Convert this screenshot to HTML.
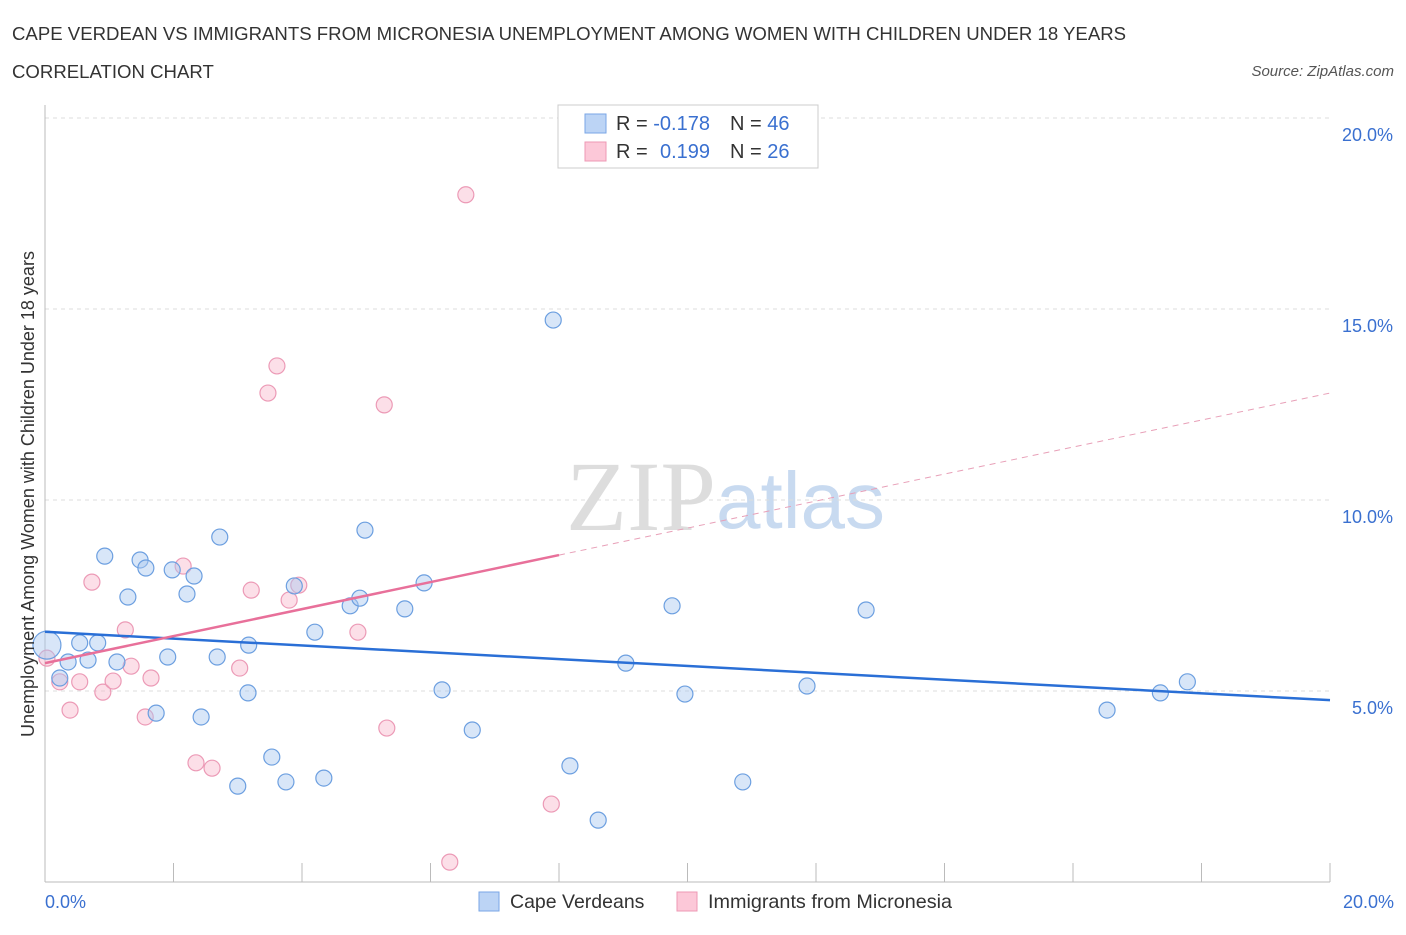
<!DOCTYPE html>
<html><head><meta charset="utf-8"><style>
body{margin:0;background:#fff;font-family:"Liberation Sans",sans-serif;}
svg text{font-family:"Liberation Sans",sans-serif;}
</style></head><body>
<svg id="c" width="1406" height="930" xmlns="http://www.w3.org/2000/svg">
<text x="12" y="40" font-size="18.6" fill="#333">CAPE VERDEAN VS IMMIGRANTS FROM MICRONESIA UNEMPLOYMENT AMONG WOMEN WITH CHILDREN UNDER 18 YEARS</text>
<text x="12" y="78" font-size="18.6" fill="#333">CORRELATION CHART</text>
<text x="1394" y="76" font-size="15" fill="#555" font-style="italic" text-anchor="end">Source: ZipAtlas.com</text>
<text x="716" y="530" font-size="100" fill="#ddd" text-anchor="end" style="font-family:'Liberation Serif',serif">ZIP</text>
<text x="716" y="528" font-size="80" fill="#c8daf0">atlas</text>
<g id="grid"></g><g id="axes"></g><g id="marks"></g>
<text transform="translate(34,494) rotate(-90)" font-size="18" fill="#333" text-anchor="middle">Unemployment Among Women with Children Under 18 years</text>
<text x="45" y="908" font-size="18" fill="#3a70d0">0.0%</text>
<text x="1394" y="908" font-size="18" fill="#3a70d0" text-anchor="end">20.0%</text>
<g>
<rect x="558" y="105" width="260" height="63" fill="#fff" stroke="#ccc"/>
<rect x="585" y="114" width="21" height="19" fill="#bcd4f5" stroke="#7aa6e6"/>
<rect x="585" y="142" width="21" height="19" fill="#fcc8d8" stroke="#ee98b4"/>
<text x="616" y="130" font-size="20" fill="#333">R = <tspan fill="#3a70d0">-0.178</tspan><tspan x="730">N = </tspan><tspan fill="#3a70d0">46</tspan></text>
<text x="616" y="158" font-size="20" fill="#333">R = <tspan x="660" fill="#3a70d0">0.199</tspan><tspan x="730">N = </tspan><tspan fill="#3a70d0">26</tspan></text>
</g>
<g>
<rect x="479" y="892" width="20" height="19" fill="#bcd4f5" stroke="#7aa6e6"/>
<text x="510" y="908" font-size="19.5" fill="#333">Cape Verdeans</text>
<rect x="677" y="892" width="20" height="19" fill="#fcc8d8" stroke="#ee98b4"/>
<text x="708" y="908" font-size="19.8" fill="#333">Immigrants from Micronesia</text>
</g>
</svg>
<script>
const yTicks=[5,10,15,20];
const blueX=[0.03,0.23,0.36,0.54,0.67,0.82,0.93,1.12,1.29,1.48,1.57,1.73,1.91,1.98,2.21,2.32,2.43,2.68,2.72,3.0,3.16,3.17,3.53,3.75,3.88,4.2,4.34,4.75,4.9,4.98,5.6,5.9,6.18,6.65,7.91,8.17,8.61,9.04,9.76,9.96,10.86,11.86,12.78,16.53,17.36,17.78];
const blueY=[6.2,5.34,5.76,6.26,5.81,6.26,8.53,5.76,7.46,8.43,8.22,4.42,5.89,8.17,7.54,8.01,4.32,5.89,9.03,2.51,4.95,6.2,3.27,2.62,7.75,6.54,2.72,7.23,7.43,9.21,7.15,7.83,5.03,3.98,14.71,3.04,1.62,5.73,7.23,4.92,2.62,5.13,7.12,4.5,4.95,5.24];
const pinkX=[0.03,0.23,0.39,0.54,0.73,0.9,1.06,1.25,1.34,1.56,1.65,2.15,2.35,2.6,3.03,3.21,3.47,3.61,3.8,3.95,4.87,5.28,5.32,6.3,6.55,7.88];
const pinkY=[5.86,5.24,4.5,5.24,7.85,4.97,5.26,6.6,5.65,4.32,5.34,8.27,3.12,2.98,5.6,7.64,12.8,13.51,7.38,7.77,6.54,12.49,4.03,0.52,17.99,2.04];
const blueLine=[6.55,4.76];
const pinkLine=[5.73,12.8];
const pinkSolidEnd=8;
const X=v=>45+v/20*1285, Y=v=>882-v/20*764;
const NS="http://www.w3.org/2000/svg";
function mk(t,a,p){const e=document.createElementNS(NS,t);for(const k in a)e.setAttribute(k,a[k]);p.appendChild(e);return e;}
const g=document.getElementById('grid'),ax=document.getElementById('axes'),m=document.getElementById('marks');
yTicks.forEach((v,i)=>{
 const l=mk('line',{x1:45,x2:1330,y1:Y(v),y2:Y(v),stroke:'#ddd','stroke-dasharray':'4,4'},g);
 
 
 const t=mk('text',{x:1393,y:Y(v)+23,'font-size':18,fill:'#3a70d0','text-anchor':'end'},ax);
 t.textContent=v.toFixed(1)+'%';
 
 
});
const a1=mk('line',{x1:45,x2:45,y1:105,y2:882,stroke:'#bbb'},ax);


const a2=mk('line',{x1:45,x2:1330,y1:882,y2:882,stroke:'#bbb'},ax);


for(let i=0;i<=10;i++){const t=mk('line',{x1:X(i*2),x2:X(i*2),y1:863,y2:882,stroke:'#bbb'},ax);
 
 }
pinkX.forEach((v,i)=>{const c=mk('circle',{cx:X(v),cy:Y(pinkY[i]),r:8,fill:'rgba(248,184,204,0.45)',stroke:'#ec9ab6','stroke-width':1.2},m);
 
 });
blueX.forEach((v,i)=>{const c=mk('circle',{cx:X(v),cy:Y(blueY[i]),r:i==0?14:8,fill:'rgba(168,200,240,0.45)',stroke:'#6c9fe0','stroke-width':1.2},m);
 
 });
const py=x=>pinkLine[0]+(pinkLine[1]-pinkLine[0])*x/20;
const l1=mk('line',{x1:X(0),y1:Y(blueLine[0]),x2:X(20),y2:Y(blueLine[1]),stroke:'#2a6fd6','stroke-width':2.5},m);


const l2=mk('line',{x1:X(0),y1:Y(py(0)),x2:X(pinkSolidEnd),y2:Y(py(pinkSolidEnd)),stroke:'#e8709a','stroke-width':2.5},m);


const l3=mk('line',{x1:X(pinkSolidEnd),y1:Y(py(pinkSolidEnd)),x2:X(20),y2:Y(py(20)),stroke:'#e8a0b8','stroke-width':1,'stroke-dasharray':'6,5'},m);


</script>
</body></html>
